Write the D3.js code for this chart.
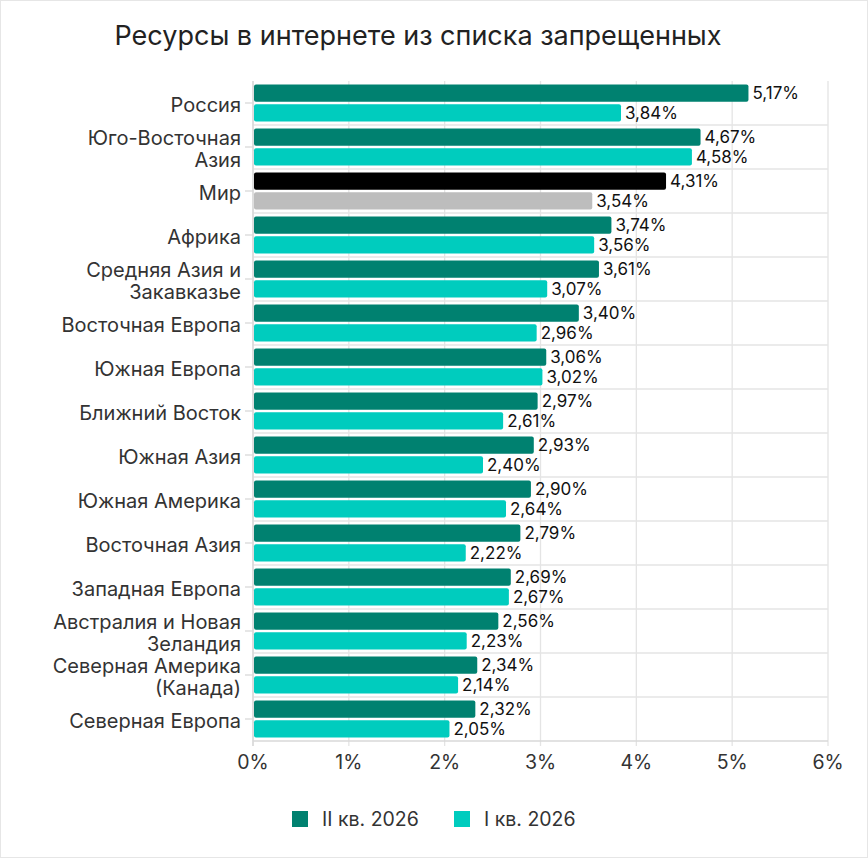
<!DOCTYPE html>
<html>
<head>
<meta charset="utf-8">
<script src="https://cdn.jsdelivr.net/npm/d3@7"></script>
<style>
  body { margin: 0; background: #fff; font-family: Inter, "Open Sans", sans-serif; }
  svg { display: block; }
</style>
</head>
<body>
<div id="chart"></div>
<script>
// Data
var categories = [
  "Россия", "Юго-Восточная|Азия", "Мир", "Африка", "Средняя Азия и|Закавказье",
  "Восточная Европа", "Южная Европа", "Ближний Восток", "Южная Азия", "Южная Америка",
  "Восточная Азия", "Западная Европа", "Австралия и Новая|Зеландия",
  "Северная Америка|(Канада)", "Северная Европа"
];
var q2Values = [5.17, 4.67, 4.31, 3.74, 3.61, 3.40, 3.06, 2.97, 2.93, 2.90, 2.79, 2.69, 2.56, 2.34, 2.32];
var q1Values = [3.84, 4.58, 3.54, 3.56, 3.07, 2.96, 3.02, 2.61, 2.40, 2.64, 2.22, 2.67, 2.23, 2.14, 2.05];
var seriesNames = ["II кв. 2026", "I кв. 2026"];
var xTicks = [0, 1, 2, 3, 4, 5, 6];
var highlight = "Мир";

var W = 868, H = 859;
var margin = { top: 81, right: 40, bottom: 118, left: 253 };
var width = 828 - margin.left, height = 741 - margin.top;

var colors = ["#008170", "#00ccbe"];
var hiColors = ["#000000", "#bdbdbd"];

var svg = d3.select("#chart").append("svg")
  .attr("width", W).attr("height", H);

// outer frame
svg.append("rect")
  .attr("x", 0.5).attr("y", 0.5).attr("width", W - 1).attr("height", H - 2)
  .attr("fill", "none").attr("stroke", "#e6e6e6");

svg.append("text")
  .attr("x", 418).attr("y", 45)
  .attr("text-anchor", "middle")
  .attr("font-size", 27).attr("fill", "#222")
  .text("Ресурсы в интернете из списка запрещенных");

var g = svg.append("g").attr("transform", "translate(" + margin.left + "," + margin.top + ")");

var x = d3.scaleLinear().domain([0, 6]).range([0, width]);
var y = d3.scaleBand().domain(categories).range([0, height]);
var sub = d3.scaleBand().domain([0, 1]).range([3.5, y.bandwidth() - 3.5]).paddingInner(0.12);

// vertical gridlines
g.selectAll(".vgrid").data(xTicks).enter().append("line")
  .attr("x1", function(d) { return x(d); }).attr("x2", function(d) { return x(d); })
  .attr("y1", 0).attr("y2", height + 5)
  .attr("stroke", "#e4e4e4").attr("stroke-width", 1.3);

// horizontal separators
g.selectAll(".hgrid").data(categories.slice(1)).enter().append("line")
  .attr("x1", 0).attr("x2", width)
  .attr("y1", function(d) { return y(d); }).attr("y2", function(d) { return y(d); })
  .attr("stroke", "#e4e4e4").attr("stroke-width", 1.3);

// bottom axis line
g.append("line").attr("x1", 0).attr("x2", width).attr("y1", height).attr("y2", height)
  .attr("stroke", "#d9d9d9").attr("stroke-width", 1.5);
// left axis line
g.append("line").attr("x1", 0).attr("x2", 0).attr("y1", 0).attr("y2", height + 5)
  .attr("stroke", "#d9d9d9").attr("stroke-width", 1.5);

// y tick marks
g.selectAll(".ytick").data(categories).enter().append("line")
  .attr("x1", -8).attr("x2", 0)
  .attr("y1", function(d) { return y(d) + y.bandwidth() / 2; })
  .attr("y2", function(d) { return y(d) + y.bandwidth() / 2; })
  .attr("stroke", "#d9d9d9").attr("stroke-width", 1.3);

// x tick labels
g.selectAll(".xlab").data(xTicks).enter().append("text")
  .attr("x", function(d) { return x(d); }).attr("y", height + 28)
  .attr("text-anchor", "middle").attr("font-size", 19.5).attr("fill", "#333")
  .text(function(d) { return d + "%"; });

// category labels
var labels = g.selectAll(".ylab").data(categories).enter().append("text")
  .attr("text-anchor", "end").attr("font-size", 20).attr("fill", "#333");
labels.each(function(d) {
  var lines = d.split("|");
  var cy = y(d) + y.bandwidth() / 2 + 1.5;
  var t = d3.select(this);
  lines.forEach(function(l, i) {
    t.append("tspan")
      .attr("x", -12)
      .attr("y", cy + (i - (lines.length - 1) / 2) * 22)
      .attr("dy", "0.35em")
      .text(l);
  });
});

var fmt = function(v) { return v.toFixed(2).replace(".", ",") + "%"; };

// bars
var rows = categories.map(function(c, i) {
  return [ { c: c, s: 0, v: q2Values[i] }, { c: c, s: 1, v: q1Values[i] } ];
});
var flat = [].concat.apply([], rows);

g.selectAll(".bar").data(flat).enter().append("rect")
  .attr("x", 1)
  .attr("y", function(d) { return y(d.c) + sub(d.s); })
  .attr("width", function(d) { return x(d.v) - 1; })
  .attr("height", sub.bandwidth())
  .attr("rx", 2)
  .attr("fill", function(d) { return d.c === highlight ? hiColors[d.s] : colors[d.s]; });

g.selectAll(".val").data(flat).enter().append("text")
  .attr("x", function(d) { return x(d.v) + 4; })
  .attr("y", function(d) { return y(d.c) + sub(d.s) + sub.bandwidth() / 2; })
  .attr("dy", "0.36em")
  .attr("font-size", 17).attr("fill", "#111")
  .text(function(d) { return fmt(d.v); });

// legend
var legendX = [292, 454];
var leg = svg.selectAll(".leg").data(seriesNames).enter().append("g")
  .attr("transform", function(d, i) { return "translate(" + legendX[i] + ",811)"; });
leg.append("rect").attr("width", 16).attr("height", 16)
  .attr("fill", function(d, i) { return colors[i]; });
leg.append("text").attr("x", 30).attr("y", 8).attr("dy", "0.36em")
  .attr("font-size", 19.5).attr("fill", "#333")
  .text(function(d) { return d; });
</script>
</body>
</html>
